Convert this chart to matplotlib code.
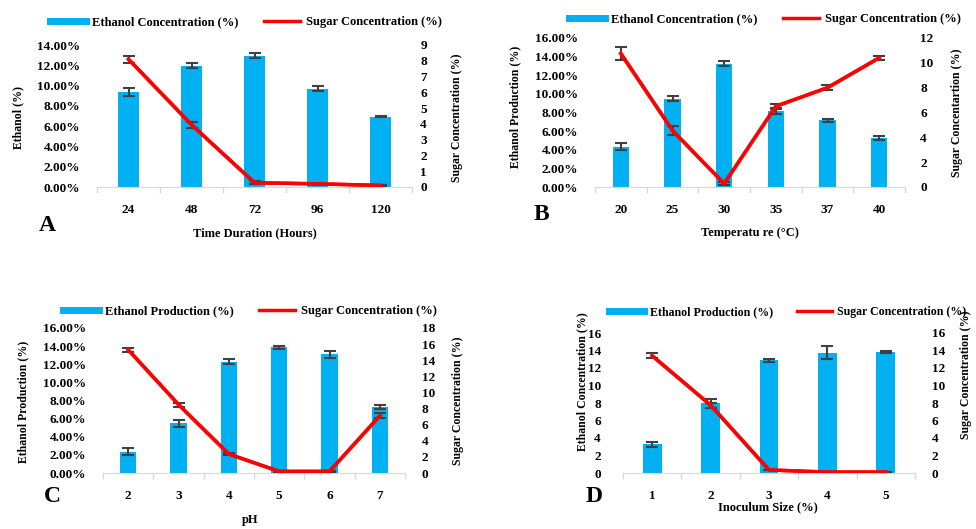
import matplotlib
matplotlib.use("Agg")
import matplotlib.pyplot as plt
from matplotlib.lines import Line2D
from matplotlib.ticker import FuncFormatter

plt.rcParams['font.family'] = ['Liberation Serif', 'DejaVu Serif']
plt.rcParams['font.weight'] = 'bold'
plt.rcParams['axes.labelweight'] = 'bold'

BLUE = '#00B0F0'
RED = '#FF0000'
ERR = '#404040'

# Panel A - time duration
a_labels = ['24', '48', '72', '96', '120']
a_ethanol = [9.35, 11.95, 12.95, 9.7, 6.95]
a_ethanol_err = [0.42, 0.25, 0.22, 0.28, 0.08]
a_sugar = [8.1, 3.95, 0.27, 0.2, 0.1]
a_sugar_err = [0.22, 0.2, 0.08, 0.08, 0.05]

# Panel B - temperature
b_labels = ['20', '25', '30', '35', '37', '40']
b_ethanol = [4.3, 9.5, 13.25, 8.15, 7.15, 5.25]
b_ethanol_err = [0.38, 0.3, 0.3, 0.3, 0.18, 0.2]
b_sugar = [10.75, 4.55, 0.27, 6.5, 8.0, 10.4]
b_sugar_err = [0.5, 0.4, 0.1, 0.22, 0.2, 0.15]

# Panel C - pH
c_labels = ['2', '3', '4', '5', '6', '7']
c_ethanol = [2.35, 5.5, 12.3, 13.85, 13.1, 7.25]
c_ethanol_err = [0.37, 0.37, 0.25, 0.18, 0.38, 0.24]
c_sugar = [15.3, 8.5, 2.35, 0.2, 0.2, 7.1]
c_sugar_err = [0.25, 0.25, 0.15, 0.05, 0.05, 0.3]

# Panel D - inoculum size
d_labels = ['1', '2', '3', '4', '5']
d_ethanol = [3.3, 7.95, 12.9, 13.75, 13.85]
d_ethanol_err = [0.28, 0.5, 0.17, 0.75, 0.08]
d_sugar = [13.4, 7.75, 0.35, 0.1, 0.1]
d_sugar_err = [0.28, 0.3, 0.05, 0.03, 0.03]

W, H = 976, 529
fig = plt.figure(figsize=(W / 100, H / 100), dpi=100)


def px_axes(left, right, bottom, top):
    return fig.add_axes([left / W, (H - bottom) / H, (right - left) / W, (bottom - top) / H])


def draw_panel(box, labels, eth, eth_err, sug, sug_err, ymax, ystep, pct, smax, sstep,
               leg_names, leg_xy, ylab, ylab_xy, ylab2, ylab2_xy, xlab, xlab_xy,
               letter, letter_xy, lpad, rpad, leg_size=9):
    ax = px_axes(*box)
    n = len(labels)
    x = list(range(n))
    ax.bar(x, eth, width=0.32, color=BLUE, zorder=2)
    ax.errorbar(x, eth, yerr=eth_err, fmt='none', ecolor=ERR, elinewidth=1.5,
                capsize=4, capthick=1.5, zorder=3)
    ax.set_xlim(-0.5, n - 0.5)
    ax.set_ylim(0, ymax)
    ax.set_yticks([i * ystep for i in range(int(round(ymax / ystep)) + 1)])
    if pct:
        ax.yaxis.set_major_formatter(FuncFormatter(lambda v, p: f'{v:.2f}%'))
    else:
        ax.yaxis.set_major_formatter(FuncFormatter(lambda v, p: f'{v:g}'))
    ax.set_xticks(x)
    ax.set_xticklabels(labels)
    ax.set_xticks([i - 0.5 for i in range(n + 1)], minor=True)
    ax.tick_params(axis='x', which='major', length=0, pad=12, labelsize=9.5)
    ax.tick_params(axis='x', which='minor', length=4, color='#D9D9D9', width=1)
    ax.tick_params(axis='y', length=0, pad=lpad, labelsize=9.5)
    for s in ['top', 'right', 'left']:
        ax.spines[s].set_visible(False)
    ax.spines['bottom'].set_color('#D9D9D9')

    ax2 = ax.twinx()
    ax2.errorbar(x, sug, yerr=sug_err, color=RED, lw=2.5, ecolor=ERR, elinewidth=1.5,
                 capsize=4, capthick=1.5, zorder=3)
    ax2.plot(x, sug, color=RED, lw=2.5, zorder=4)
    ax2.set_ylim(0, smax)
    ax2.set_yticks([i * sstep for i in range(int(round(smax / sstep)) + 1)])
    ax2.tick_params(axis='y', length=0, pad=rpad, labelsize=9.5)
    for s in ax2.spines.values():
        s.set_visible(False)

    ax.set_ylabel(ylab, fontsize=8.5)
    ax.yaxis.set_label_coords(*ylab_xy)
    ax2.set_ylabel(ylab2, fontsize=8.5)
    ax2.yaxis.set_label_coords(*ylab2_xy)
    ax.set_xlabel(xlab, fontsize=9)
    ax.xaxis.set_label_coords(*xlab_xy)

    handles = [Line2D([], [], color=BLUE, lw=5), Line2D([], [], color=RED, lw=2.5)]
    fig.legend(handles, leg_names, loc='center', ncol=2, frameon=False,
               bbox_to_anchor=(leg_xy[0] / W, 1 - leg_xy[1] / H), fontsize=leg_size,
               handlelength=2.9, handletextpad=0.5, columnspacing=2.0)
    fig.text(letter_xy[0] / W, 1 - letter_xy[1] / H, letter, fontsize=17,
             ha='center', va='center')


draw_panel((97, 412, 187, 45), a_labels, a_ethanol, a_ethanol_err, a_sugar, a_sugar_err,
           14, 2, True, 9, 1,
           ['Ethanol Concentration (%)', 'Sugar Concentration (%)'], (246, 22),
           'Ethanol (%)', (-0.232, 0.49), 'Sugar Concentration (%)', (1.124, 0.49),
           'Time Duration (Hours)', (0.5, -0.282), 'A', (47, 225), 12, 6)

draw_panel((595, 905, 187, 38), b_labels, b_ethanol, b_ethanol_err, b_sugar, b_sugar_err,
           16, 2, True, 12, 2,
           ['Ethanol Concentration (%)', 'Sugar Concentration (%)'], (765, 19),
           'Ethanol Production (%)', (-0.239, 0.54), 'Sugar Concentartion (%)', (1.148, 0.5),
           'Temperatu re (°C)', (0.5, -0.268), 'B', (541, 215), 12, 11)

draw_panel((103, 405, 473, 328), c_labels, c_ethanol, c_ethanol_err, c_sugar, c_sugar_err,
           16, 2, True, 18, 2,
           ['Ethanol Production (%)', 'Sugar Concentration (%)'], (250, 311),
           'Ethanol Production (%)', (-0.245, 0.49), 'Sugar Concentration (%)', (1.156, 0.5),
           'pH', (0.487, -0.285), 'C', (52, 497), 12, 12)

draw_panel((623, 915, 473, 333), d_labels, d_ethanol, d_ethanol_err, d_sugar, d_sugar_err,
           16, 2, False, 16, 2,
           ['Ethanol Production (%)', 'Sugar Concentration (%)'], (788, 312),
           'Ethanol Concentration (%)', (-0.12, 0.65), 'Sugar Concentration (%)', (1.155, 0.7),
           'Inoculum Size (%)', (0.497, -0.2), 'D', (594, 497), 16, 12, leg_size=8.6)

fig.savefig('out.png', dpi=100)
